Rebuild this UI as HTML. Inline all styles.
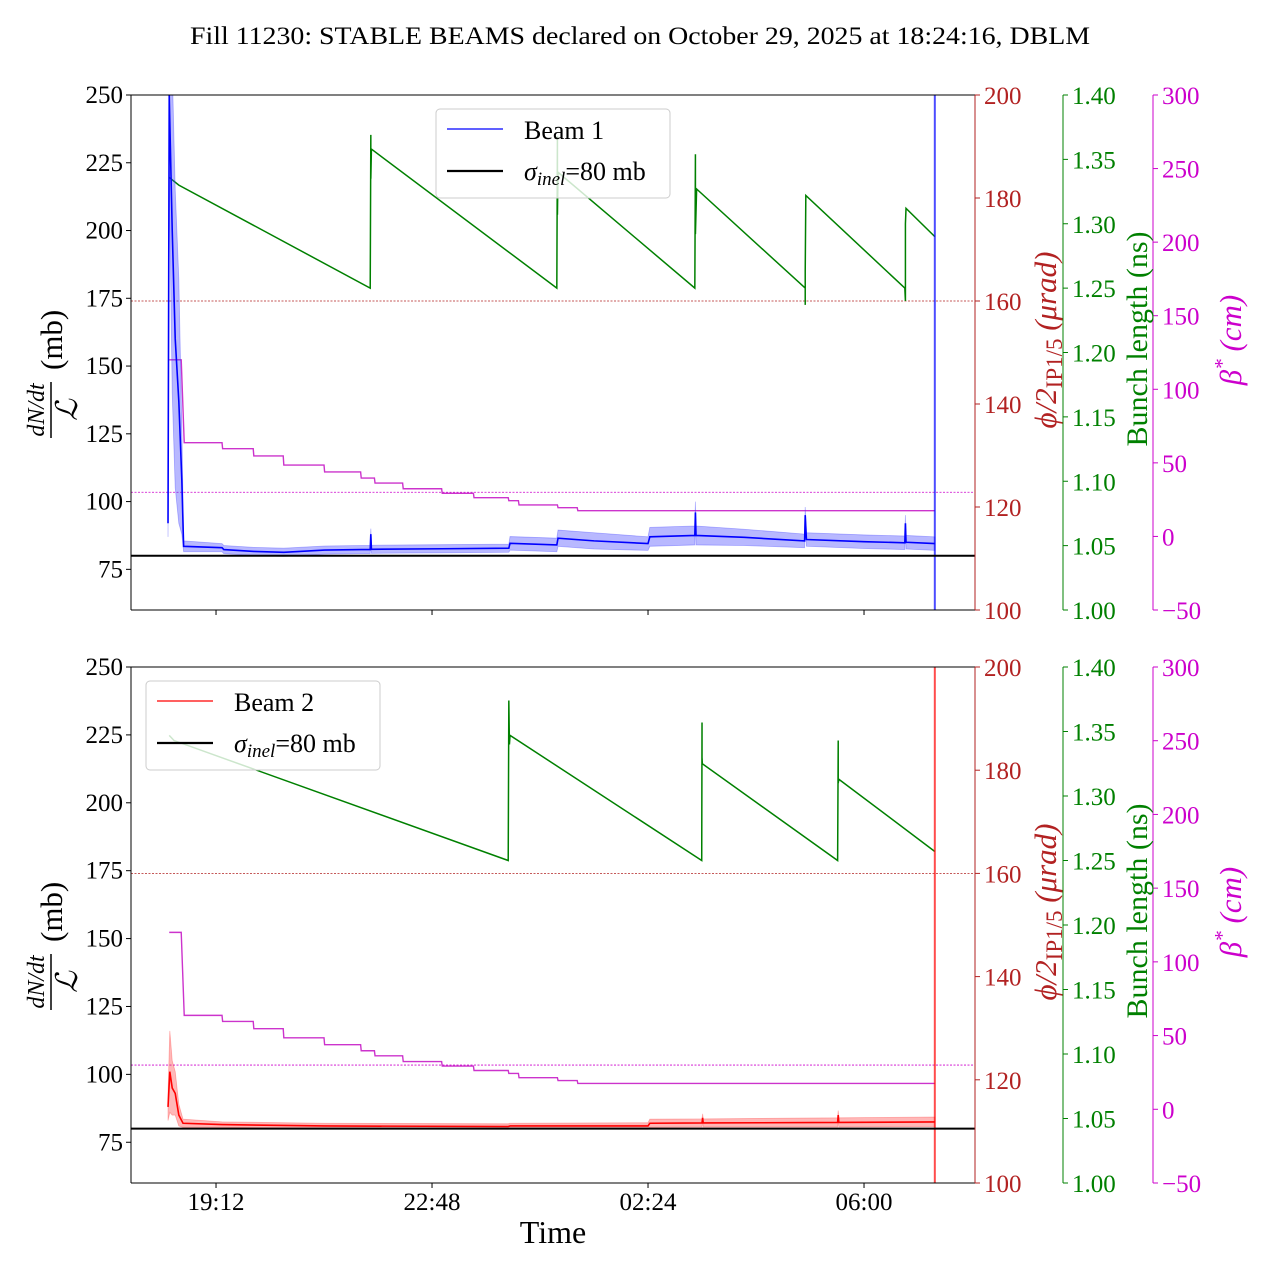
<!DOCTYPE html>
<html><head><meta charset="utf-8"><title>Fill 11230 DBLM</title>
<style>
html,body{margin:0;padding:0;background:#fff;}
svg{display:block;font-family:"Liberation Serif",serif;}
svg text{font-family:"Liberation Serif",serif;}
</style></head>
<body>
<svg id="chart" width="1280" height="1280" viewBox="0 0 1280 1280" xmlns="http://www.w3.org/2000/svg">
<rect x="0" y="0" width="1280" height="1280" fill="#fff"/>
<text x="640" y="44" font-size="25" text-anchor="middle" textLength="900" lengthAdjust="spacingAndGlyphs">Fill 11230: STABLE BEAMS declared on October 29, 2025 at 18:24:16, DBLM</text>
</svg>
<script>
// ---- data (time in hours since midnight Oct 29; >24 = next day) ----
const timeTicks = [19.2, 22.8, 26.4, 30.0];
const timeTickLabels = ["19:12", "22:48", "02:24", "06:00"];
const leftTicks = [75, 100, 125, 150, 175, 200, 225, 250];
const redTicks = [100, 120, 140, 160, 180, 200];
const greenTicks = [1.00, 1.05, 1.10, 1.15, 1.20, 1.25, 1.30, 1.35, 1.40];
const greenTickLabels = ["1.00","1.05","1.10","1.15","1.20","1.25","1.30","1.35","1.40"];
const magTicks = [-50, 0, 50, 100, 150, 200, 250, 300];
const magTickLabels = ["\u221250","0","50","100","150","200","250","300"];
const sigmaInel = 80;
const redRef = 160;
const magRef = 30;
const endTime = 31.18;

// beta* steps (cm): start times and values
const betaT = [18.42, 18.58, 18.67, 19.31, 19.83, 20.33, 21.01, 21.62, 21.85, 22.32, 22.97, 23.50, 24.08, 24.25, 24.90, 25.23];
const betaV = [120, 120, 63.7, 59.6, 54.7, 48.5, 43.8, 39.7, 36.3, 32.4, 29.3, 26.3, 24.3, 21.4, 19.5, 17.5];

// bunch length beam 1 (ns)
const bl1T = [18.42, 18.58, 21.77, 21.78, 21.78, 21.79, 24.88, 24.89, 24.89, 24.90, 27.18, 27.19, 27.19, 27.21, 29.02, 29.02, 29.02, 29.03, 30.68, 30.69, 30.69, 30.70, 31.18];
const bl1V = [1.336, 1.330, 1.250, 1.369, 1.335, 1.358, 1.250, 1.368, 1.307, 1.340, 1.250, 1.354, 1.292, 1.327, 1.250, 1.237, 1.263, 1.322, 1.250, 1.240, 1.300, 1.312, 1.290];
// bunch length beam 2 (ns)
const bl2T = [18.42, 18.50, 24.07, 24.08, 24.09, 24.10, 27.295, 27.30, 27.30, 27.305, 29.56, 29.57, 29.57, 29.58, 31.18];
const bl2V = [1.347, 1.343, 1.250, 1.374, 1.340, 1.347, 1.250, 1.357, 1.330, 1.325, 1.250, 1.343, 1.310, 1.313, 1.257];

// dN/dt / L beam 1 (mb) with band half-width
const b1T = [18.40, 18.42, 18.47, 18.52, 18.58, 18.63, 18.66, 19.30, 19.33, 19.83, 20.33, 21.01, 21.62, 21.77, 21.78, 21.79, 22.97, 24.08, 24.10, 24.88, 24.90, 25.50, 26.40, 26.43, 27.18, 27.19, 27.20, 28.00, 29.01, 29.02, 29.04, 30.00, 30.68, 30.69, 30.70, 31.18];
const b1V = [92, 250, 200, 160, 137, 108, 83.5, 83.0, 82.3, 81.6, 81.3, 82.1, 82.3, 82.3, 88, 82.4, 82.6, 82.8, 84.6, 84.0, 86.5, 85.5, 84.5, 87.0, 87.5, 96, 87.5, 86.8, 85.5, 95, 86.0, 85.2, 84.8, 92, 85.0, 84.5];
const b1E = [5, 30, 60, 55, 45, 20, 2, 1.5, 1.5, 1.5, 1.5, 1.5, 1.5, 1.5, 2, 1.5, 1.5, 1.5, 2.5, 2.5, 3, 3, 2.5, 3.5, 3.5, 4, 3.5, 3, 2.5, 3, 2.5, 2.5, 2.5, 3, 2.5, 2.5];
// dN/dt / L beam 2 (mb)
const b2T = [18.40, 18.43, 18.47, 18.52, 18.58, 18.65, 19.30, 21.00, 24.07, 24.10, 26.40, 26.43, 27.30, 27.31, 27.32, 29.56, 29.57, 29.58, 31.18];
const b2V = [88, 101, 95, 93, 85, 82, 81.5, 81.0, 80.8, 81.0, 81.0, 82.0, 82.1, 84, 82.1, 82.3, 85, 82.3, 82.5];
const b2E = [5, 15, 10, 8, 4, 1.5, 1, 1, 1, 1, 1.2, 1.5, 1.5, 1.5, 1.5, 1.7, 1.7, 1.7, 1.8];

// ---- layout ----
const NS = "http://www.w3.org/2000/svg";
const svg = document.getElementById("chart");
const X0 = 131, X1 = 975, T0 = 17.783, PXH = 60;
function xS(t){ return X0 + (t - T0) * PXH; }
function mk(tag, attrs, parent){
  const e = document.createElementNS(NS, tag);
  for (const k in attrs) e.setAttribute(k, attrs[k]);
  (parent || svg).appendChild(e);
  return e;
}
function pathFrom(ts, vs, ys){
  let d = "";
  for (let i = 0; i < ts.length; i++) d += (i ? "L" : "M") + xS(ts[i]).toFixed(2) + "," + ys(vs[i]).toFixed(2);
  return d;
}
function stepPath(ts, vs, tEnd, ys){
  let d = "";
  for (let i = 0; i < ts.length; i++){
    const x = xS(ts[i]), y = ys(vs[i]);
    if (i === 0) d += "M" + x + "," + y;
    else d += "L" + x + "," + y;
    const xn = i < ts.length - 1 ? xS(ts[i+1]) - (i === 1 ? 3 : 0.6) : xS(tEnd);
    d += "L" + xn + "," + y;
  }
  return d;
}

function panel(top, idx, beamT, beamV, beamE, beamColor, bandColor, blT, blV, legendLabel, legendBox){
  const H = (idx === 0) ? 515 : 516, bottom = top + H;
  const yL = v => top + (250 - v) / 190 * H;
  const yR = v => top + (200 - v) / 100 * H;
  const yG = v => top + (1.40 - v) / 0.40 * H;
  const yM = v => top + (300 - v) / 350 * H;
  const p = idx === 0 ? "top" : "bottom";

  const g = mk("g", {});
  
  
  const clipId = "clip" + idx;
  const cp = mk("clipPath", {id: clipId}, g);
  mk("rect", {x: X0, y: top, width: X1 - X0, height: H}, cp);
  const plot = mk("g", {"clip-path": "url(#" + clipId + ")"}, g);

  const rr = mk("line", {x1: X0, x2: X1, y1: yR(redRef), y2: yR(redRef), stroke: "#b22222", "stroke-width": 0.8, "stroke-dasharray": "2,1.5"}, plot);
  
  
  const mr = mk("line", {x1: X0, x2: X1, y1: yM(magRef), y2: yM(magRef), stroke: "#cc00cc", "stroke-width": 0.8, "stroke-dasharray": "2,1.5"}, plot);
  
  

  const gl = mk("path", {d: pathFrom(blT, blV, yG), fill: "none", stroke: "#008000", "stroke-width": 1.5}, plot);
  
  

  const ml = mk("path", {d: stepPath(betaT, betaV, endTime, yM), fill: "none", stroke: "#cc33cc", "stroke-width": 1.4}, plot);
  
  

  let d = "";
  for (let i = 0; i < beamT.length; i++) d += (i ? "L" : "M") + xS(beamT[i]).toFixed(2) + "," + yL(beamV[i] + beamE[i]).toFixed(2);
  for (let i = beamT.length - 1; i >= 0; i--) d += "L" + xS(beamT[i]).toFixed(2) + "," + yL(beamV[i] - beamE[i]).toFixed(2);
  d += "Z";
  const band = mk("path", {d: d, fill: bandColor, "fill-opacity": 0.35, stroke: bandColor, "stroke-opacity": 0.35, "stroke-width": 0.8}, plot);
  
  
  const bl = mk("path", {d: pathFrom(beamT, beamV, yL), fill: "none", stroke: beamColor, "stroke-width": 1.6}, plot);
  
  
  const ve = mk("line", {x1: xS(endTime), x2: xS(endTime), y1: top, y2: bottom, stroke: beamColor, "stroke-width": 2, "stroke-opacity": 0.7}, plot);
  
  

  const sl = mk("line", {x1: X0, x2: X1, y1: yL(sigmaInel), y2: yL(sigmaInel), stroke: "#000", "stroke-width": 2}, plot);
  
  

  mk("line", {x1: X0, x2: X1, y1: top, y2: top, stroke: "#000", "stroke-width": 1}, g);
  mk("line", {x1: X0, x2: X1, y1: bottom, y2: bottom, stroke: "#000", "stroke-width": 1}, g);
  mk("line", {x1: X0, x2: X0, y1: top, y2: bottom, stroke: "#000", "stroke-width": 1}, g);

  leftTicks.forEach(v => {
    const y = yL(v);
    mk("line", {x1: X0 - 5, x2: X0, y1: y, y2: y, stroke: "#000"}, g);
    const t = mk("text", {x: X0 - 8, y: y + 8, "font-size": 25, "text-anchor": "end"}, g);
    t.textContent = v;
    
    
  });
  timeTicks.forEach((tv, i) => {
    const x = xS(tv);
    mk("line", {x1: x, x2: x, y1: bottom, y2: bottom + 5, stroke: "#000"}, g);
    if (idx === 1){
      const t = mk("text", {x: x, y: bottom + 27, "font-size": 25, "text-anchor": "middle"}, g);
      t.textContent = timeTickLabels[i];
      
      
    }
  });

  function rAxis(xa, col, ticks, labels, ys, name){
    mk("line", {x1: xa, x2: xa, y1: top, y2: bottom, stroke: col, "stroke-width": 1}, g);
    ticks.forEach((v, i) => {
      const y = ys(v);
      mk("line", {x1: xa, x2: xa + 5, y1: y, y2: y, stroke: col}, g);
      const t = mk("text", {x: xa + 9, y: y + 9, "font-size": 25, fill: col}, g);
      t.textContent = labels ? labels[i] : v;
      
      
    });
  }
  rAxis(X1, "#b22222", redTicks, null, yR, "crossing-angle");
  rAxis(1063, "#008000", greenTicks, greenTickLabels, yG, "bunch-length");
  rAxis(1153, "#cc00cc", magTicks, magTickLabels, yM, "beta-star");

  const cy = top + 250;
  const lt = mk("g", {transform: "translate(50," + (cy + 15) + ") rotate(-90)"}, g);
  
  
  const num = mk("text", {x: -50, y: -6, "font-size": 24, "font-style": "italic", "text-anchor": "middle"}, lt);
  num.textContent = "dN/dt";
  mk("line", {x1: -78, x2: -22, y1: 1, y2: 1, stroke: "#000", "stroke-width": 1.5}, lt);
  const den = mk("text", {x: -50, y: 27, "font-size": 30, "font-style": "italic", "text-anchor": "middle"}, lt);
  den.textContent = "\u2112";
  const mb = mk("text", {x: -10, y: 12, "font-size": 31}, lt);
  mb.textContent = "(mb)";

  const rt = mk("text", {transform: "translate(1056," + (cy - 5) + ") rotate(-90)", "font-size": 31, fill: "#b22222", "text-anchor": "middle"}, g);
  
  
  rt.innerHTML = '<tspan font-style="italic">\u03d5/2</tspan><tspan font-size="23" dy="6">IP1/5</tspan><tspan dy="-6" font-style="italic"> (\u03bcrad)</tspan>';
  const gt = mk("text", {transform: "translate(1147," + (cy - 6) + ") rotate(-90)", "font-size": 30, fill: "#008000", "text-anchor": "middle"}, g);
  gt.textContent = "Bunch length (ns)";
  
  
  const mt = mk("text", {transform: "translate(1241," + (cy - 5) + ") rotate(-90)", "font-size": 31, fill: "#cc00cc", "text-anchor": "middle", "font-style": "italic"}, g);
  mt.innerHTML = '\u03b2<tspan font-size="21" dy="-12">*</tspan><tspan dy="12"> (cm)</tspan>';
  
  

  const lg = mk("g", {}, g);
  
  
  const lx = legendBox[0], ly = legendBox[1];
  mk("rect", {x: lx, y: ly, width: 234, height: 89, rx: 4, fill: "#fff", "fill-opacity": 0.8, stroke: "#cccccc", "stroke-width": 1}, lg);
  const e1 = mk("line", {x1: lx + 11, x2: lx + 67, y1: ly + 20, y2: ly + 20, stroke: beamColor, "stroke-width": 1.2}, lg);
  
  
  const t1 = mk("text", {x: lx + 88, y: ly + 30, "font-size": 26}, lg);
  t1.textContent = legendLabel;
  
  
  const e2 = mk("line", {x1: lx + 11, x2: lx + 67, y1: ly + 62, y2: ly + 62, stroke: "#000", "stroke-width": 2.2}, lg);
  
  
  const t2 = mk("text", {x: lx + 88, y: ly + 71, "font-size": 26}, lg);
  t2.innerHTML = '<tspan font-style="italic">\u03c3</tspan><tspan font-style="italic" font-size="19" dy="5">inel</tspan><tspan dy="-5">=80 mb</tspan>';
  
  
}

panel(95, 0, b1T, b1V, b1E, "#0000ff", "#3333ff", bl1T, bl1V, "Beam 1", [436, 109]);
panel(667, 1, b2T, b2V, b2E, "#ff0000", "#ff3333", bl2T, bl2V, "Beam 2", [146, 681]);

const xt = mk("text", {x: 553, y: 1243, "font-size": 32, "text-anchor": "middle"});
xt.textContent = "Time";


</script>
</body></html>
